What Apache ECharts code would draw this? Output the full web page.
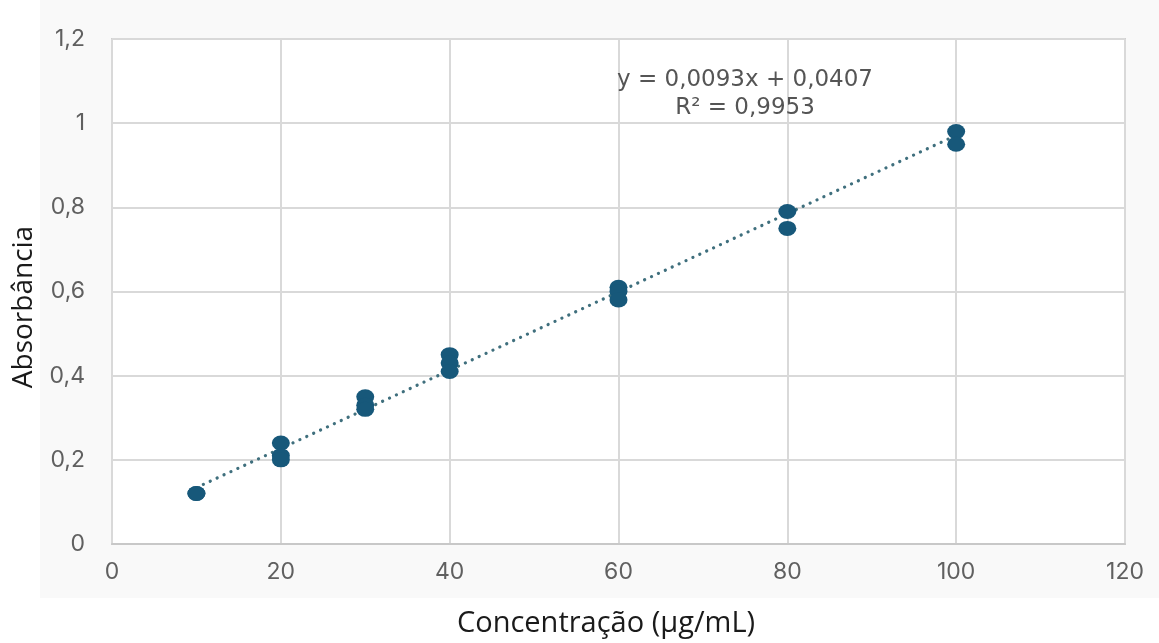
<!DOCTYPE html>
<html>
<head>
<meta charset="utf-8">
<script src="https://cdn.jsdelivr.net/npm/echarts@6/dist/echarts.min.js"></script>
<style>
html,body{margin:0;padding:0;background:#fff;}
#c{width:1159px;height:643px;}
</style>
</head>
<body>
<div id="c"></div>
<script>
// Data
const concentrations = [10, 10, 20, 20, 20, 30, 30, 30, 40, 40, 40, 60, 60, 60, 80, 80, 100, 100];
const absorbance     = [0.12, 0.12, 0.24, 0.21, 0.20, 0.35, 0.33, 0.32, 0.45, 0.43, 0.41, 0.61, 0.60, 0.58, 0.79, 0.75, 0.98, 0.95];
const trendX = [10, 100];
const trendY = [0.134, 0.971];
const equationText = 'y = 0,0093x + 0,0407';
const r2Text = 'R² = 0,9953';
const xTicks = [0, 20, 40, 60, 80, 100, 120];
const yTicks = [0, 0.2, 0.4, 0.6, 0.8, 1.0, 1.2];
const xTitle = 'Concentração (µg/mL)';
const yTitle = 'Absorbância';

const points = concentrations.map((x, i) => [x, absorbance[i]]);
const trend = trendX.map((x, i) => [x, trendY[i]]);
const fmt = v => String(Math.round(v * 10) / 10).replace('.', ',');

const chart = echarts.init(document.getElementById('c'), null, {renderer: 'canvas'});
chart.setOption({
  backgroundColor: '#ffffff',
  animation: false,
  graphic: [
    {type: 'rect', z: -10, silent: true, shape: {x: 40, y: 0, width: 1119, height: 598}, style: {fill: '#f9f9f9'}},
    {type: 'text', z: 10, x: 745, y: 80, style: {text: equationText, fill: '#555555', font: '23px "DejaVu Sans"', align: 'center', verticalAlign: 'middle'}},
    {type: 'text', z: 10, x: 745, y: 108, style: {text: r2Text, fill: '#555555', font: '23px "DejaVu Sans"', align: 'center', verticalAlign: 'middle'}},
    {type: 'text', z: 10, x: 606, y: 624, style: {text: xTitle, fill: '#1a1a1a', font: '29px "Open Sans"', align: 'center', verticalAlign: 'middle'}},
    {type: 'text', z: 10, x: 24, y: 307, rotation: Math.PI / 2, style: {text: yTitle, fill: '#1a1a1a', font: '28px "Open Sans"', align: 'center', verticalAlign: 'middle'}}
  ],
  grid: {
    left: 112, right: 34, top: 39, bottom: 99,
    show: true, backgroundColor: '#ffffff', borderColor: '#d0d0d0', borderWidth: 2
  },
  xAxis: {
    type: 'value', min: xTicks[0], max: xTicks[xTicks.length - 1], interval: 20,
    axisLine: {show: true, lineStyle: {color: '#c8c8c8', width: 2}},
    axisTick: {show: false},
    splitLine: {show: true, lineStyle: {color: '#d9d9d9', width: 2}},
    axisLabel: {color: '#606060', fontFamily: 'Inter', fontSize: 23, margin: 17}
  },
  yAxis: {
    type: 'value', min: yTicks[0], max: yTicks[yTicks.length - 1], interval: 0.2,
    axisLine: {show: false},
    axisTick: {show: false},
    splitLine: {show: true, lineStyle: {color: '#d9d9d9', width: 2}},
    axisLabel: {color: '#606060', fontFamily: 'Inter', fontSize: 23, margin: 27, formatter: fmt}
  },
  series: [
    {
      type: 'line', data: trend, symbol: 'none', z: 2,
      lineStyle: {color: '#3f6f7d', width: 3.2, type: [0.1, 7.5], cap: 'round'}
    },
    {
      type: 'scatter', data: points, z: 3,
      symbol: 'circle', symbolSize: [18, 15],
      itemStyle: {color: '#17587a', opacity: 1}
    }
  ]
});
</script>
</body>
</html>
